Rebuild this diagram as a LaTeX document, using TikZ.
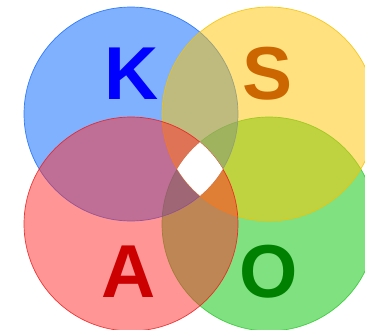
\documentclass[tikz,border=0pt]{standalone}
\usepackage{fontspec}
\setmainfont{Liberation Sans}
\definecolor{cB}{RGB}{0,101,255}
\definecolor{cY}{RGB}{255,197,0}
\definecolor{cR}{RGB}{255,45,45}
\definecolor{cG}{RGB}{0,197,0}
\definecolor{sB}{RGB}{30,110,250}
\definecolor{sY}{RGB}{245,195,0}
\definecolor{sR}{RGB}{235,30,30}
\definecolor{sG}{RGB}{50,200,50}
\definecolor{tK}{RGB}{0,0,255}
\definecolor{tS}{RGB}{204,102,0}
\definecolor{tA}{RGB}{204,0,0}
\definecolor{tO}{RGB}{0,128,0}
\tikzset{
  disc/.style={fill opacity=0.5, draw opacity=0.85, line width=0.7pt},
  letter/.style={anchor=base, inner sep=0pt, font=\fontsize{75}{80}\selectfont\bfseries}
}
\begin{document}
\begin{tikzpicture}[x=1pt,y=-1pt]
\useasboundingbox (0,0) rectangle (365,330);
\clip (0,0) rectangle (365,330);
\fill[white] (0,0) rectangle (365,330);
\def\rr{107}
\coordinate (cb) at (131,114);
\coordinate (cy) at (269,114);
\coordinate (cr) at (131,224);
\coordinate (cg) at (269,224);
\draw[disc, fill=cG, draw=sG] (cg) circle (\rr);
\draw[disc, fill=cB, draw=sB] (cb) circle (\rr);
\draw[disc, fill=cY, draw=sY] (cy) circle (\rr);
\draw[disc, fill=cR, draw=sR] (cr) circle (\rr);
\begin{scope}
  \clip (cb) circle (\rr);
  \clip (cy) circle (\rr);
  \clip (cr) circle (\rr);
  \fill[white] (cg) circle (\rr);
\end{scope}
\node[letter, text=tK] (K) at (132,99) {K};
\node[letter, text=tS] (S) at (268,99) {S};
\node[letter, text=tA] (A) at (129,297) {A};
\node[letter, text=tO] (O) at (269,297) {O};
\end{tikzpicture}
\end{document}
